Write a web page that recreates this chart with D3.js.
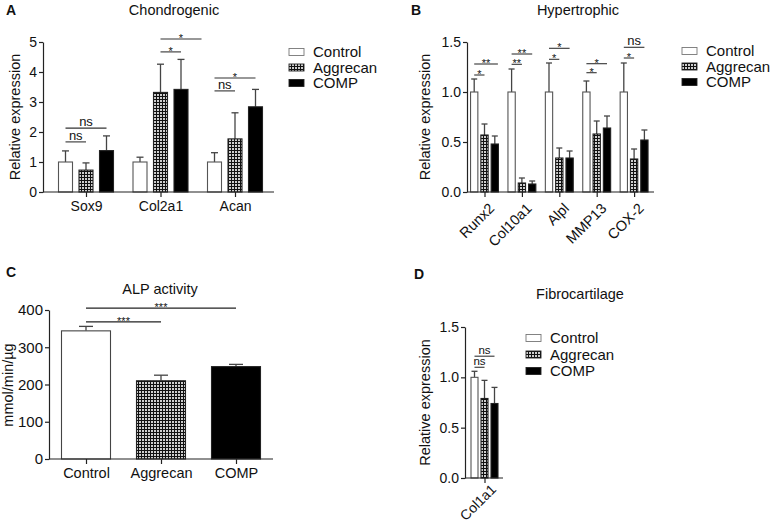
<!DOCTYPE html>
<html><head><meta charset="utf-8">
<script src="https://cdn.jsdelivr.net/npm/d3@7"></script>
<style>
html,body{margin:0;padding:0;background:#fff;}
svg{display:block;font-family:"Liberation Sans",Arial,sans-serif;}
</style></head>
<body>
<svg id="chart" width="770" height="526"></svg>
<script>
// ---------- DATA ----------
const groups = ["Control", "Aggrecan", "COMP"];

// Panel A – Chondrogenic
const chondroGenes = ["Sox9", "Col2a1", "Acan"];
const chondroMean = [[1.00, 0.73, 1.38], [1.00, 3.32, 3.42], [1.00, 1.77, 2.84]];
const chondroErr  = [[0.37, 0.24, 0.49], [0.16, 0.94, 1.00], [0.31, 0.87, 0.58]];
const chondroTicks = [0, 1, 2, 3, 4, 5];
// significance: [gene, fromBar, toBar, yValue, label]
const chondroSig = [
  [0, 0, 1, 1.67, "ns"], [0, 0, 2, 2.13, "ns"],
  [1, 1, 2, 4.67, "*"], [1, 1, 3, 5.10, "*"],
  [2, 0, 1, 3.37, "ns"], [2, 0, 2, 3.80, "*"]
];

// Panel B – Hypertrophic
const hyperGenes = ["Runx2", "Col10a1", "Alpl", "MMP13", "COX-2"];
const hyperMean = [[1.00, 0.57, 0.48], [1.00, 0.09, 0.08], [1.00, 0.34, 0.34], [1.00, 0.58, 0.64], [1.00, 0.33, 0.52]];
const hyperErr  = [[0.13, 0.11, 0.08], [0.23, 0.05, 0.03], [0.29, 0.10, 0.07], [0.11, 0.13, 0.12], [0.29, 0.10, 0.10]];
const hyperTicks = [0, 0.5, 1.0, 1.5];
const hyperSig = [
  [0, 0, 1, 1.17, "*"], [0, 0, 2.3, 1.28, "**"],
  [1, 0, 1, 1.277, "**"], [1, 0, 2, 1.38, "**"],
  [2, 0, 1, 1.327, "*"], [2, 0, 2, 1.437, "*"],
  [3, 0, 1, 1.193, "*"], [3, 0, 2, 1.283, "*"],
  [4, 0, 1, 1.34, "*"], [4, 0, 2, 1.447, "ns"]
];

// Panel C – ALP activity
const alpMean = [344, 210, 248];
const alpErr  = [12, 15, 6];
const alpTicks = [0, 100, 200, 300, 400];
const alpSig = [[0, 1, 368, "***"], [0, 2, 405, "***"]];

// Panel D – Fibrocartilage
const fibroGenes = ["Col1a1"];
const fibroMean = [[1.00, 0.79, 0.74]];
const fibroErr  = [[0.06, 0.18, 0.16]];
const fibroTicks = [0, 0.5, 1.0, 1.5];
const fibroSig = [[0, 0, 1, 1.10, "ns"], [0, 0, 2, 1.21, "ns"]];

// ---------- DRAWING ----------
const svg = d3.select("#chart");
const defs = svg.append("defs");
const pat = defs.append("pattern").attr("id", "checker")
  .attr("patternUnits", "userSpaceOnUse").attr("width", 3).attr("height", 3);
pat.append("rect").attr("width", 3).attr("height", 3).attr("fill", "#111");
pat.append("rect").attr("x", 1).attr("y", 1).attr("width", 2).attr("height", 2).attr("fill", "#cfcfcf");

const fills = ["#fff", "url(#checker)", "#000"];
const AX = "#222";
const FONT = "Liberation Sans, Arial, sans-serif";

function styleAxis(g) {
  g.selectAll("path.domain").attr("stroke", AX).attr("stroke-width", 1.2);
  g.selectAll(".tick line").attr("stroke", AX).attr("stroke-width", 1.2);
  g.selectAll(".tick text").attr("fill", "#111").attr("font-family", FONT);
}

function panel(o) {
  const g = svg.append("g");
  const y = d3.scaleLinear().domain(o.yDomain).range([o.y0, o.y1]);
  const x0 = d3.scalePoint().domain(o.genes).range([o.c0, o.c1]);
  const x1 = d3.scalePoint().domain(d3.range(o.nBars)).range([-o.step * (o.nBars - 1) / 2, o.step * (o.nBars - 1) / 2]);
  const xb = (gi, bi) => x0(o.genes[gi]) + (bi - (o.nBars - 1) / 2) * o.step;

  // y axis
  const ya = g.append("g").attr("transform", `translate(${o.ax0},0)`)
    .call(d3.axisLeft(y).tickValues(o.ticks).tickFormat(o.fmt).tickSize(4).tickSizeOuter(0).tickPadding(2));
  ya.selectAll(".tick text").attr("font-size", o.tickFs);
  styleAxis(ya);

  // bars
  o.mean.forEach((row, gi) => {
    row.forEach((v, bi) => {
      const cx = x0(o.genes[gi]) + x1(bi);
      const top = y(v + o.err[gi][bi]);
      g.append("line").attr("x1", cx).attr("x2", cx).attr("y1", y(v)).attr("y2", top)
        .attr("stroke", "#444").attr("stroke-width", 1.3);
      g.append("line").attr("x1", cx - o.cap / 2).attr("x2", cx + o.cap / 2).attr("y1", top).attr("y2", top)
        .attr("stroke", "#444").attr("stroke-width", 1.3);
      g.append("rect").attr("x", cx - o.bw / 2).attr("y", y(v)).attr("width", o.bw).attr("height", y(0) - y(v))
        .attr("fill", fills[bi]).attr("stroke", bi === 0 ? "#555" : "#222").attr("stroke-width", 1.1);
    });
  });

  // x axis
  const xa = g.append("g").attr("transform", `translate(0,${o.y0})`)
    .call(d3.axisBottom(x0).tickSize(5).tickSizeOuter(0).tickPadding(4));
  xa.select("path.domain").attr("d", `M${o.ax0},0H${o.ax1}`);
  xa.selectAll(".tick text").attr("font-size", o.catFs);
  if (o.rotate) {
    xa.selectAll(".tick text").attr("text-anchor", "end")
      .attr("transform", `translate(${o.rotate[0]},${o.rotate[1]}) rotate(-45)`).attr("dy", "0.35em").attr("y", 8).attr("x", 0);
  }
  styleAxis(xa);

  // significance
  o.sig.forEach(s => {
    const xa_ = xb(s[0], s[1]), xe = xb(s[0], s[2]), yy = y(s[3]);
    g.append("line").attr("x1", xa_).attr("x2", xe).attr("y1", yy).attr("y2", yy)
      .attr("stroke", "#333").attr("stroke-width", 1.1);
    const isNs = s[4] === "ns";
    g.append("text").attr("x", (xa_ + xe) / 2).attr("y", isNs ? yy - 2 : yy + 3)
      .attr("text-anchor", "middle").attr("font-family", FONT)
      .attr("font-size", isNs ? o.nsFs : 11).attr("fill", "#111").text(s[4]);
  });

  // title
  g.append("text").attr("x", o.tx).attr("y", o.ty).attr("text-anchor", "middle")
    .attr("font-family", FONT).attr("font-size", 14.5).attr("fill", "#111").text(o.title);
  // panel letter
  g.append("text").attr("x", o.lx).attr("y", o.ly).attr("font-family", FONT)
    .attr("font-weight", "bold").attr("font-size", 14).attr("fill", "#111").text(o.letter);
  // y label
  g.append("text").attr("transform", `translate(${o.ylx},${(o.y0 + o.y1) / 2}) rotate(-90)`)
    .attr("text-anchor", "middle").attr("font-family", FONT).attr("font-size", 14.5).attr("fill", "#111")
    .text(o.ylabel);

  // legend
  if (o.legend) {
    groups.forEach((name, i) => {
      const ly = o.legend.y + i * o.legend.dy;
      g.append("rect").attr("x", o.legend.x).attr("y", ly - 3.5).attr("width", 15).attr("height", 7)
        .attr("fill", fills[i]).attr("stroke", i === 0 ? "#777" : "#222").attr("stroke-width", 0.9);
      g.append("text").attr("x", o.legend.x + 24).attr("y", ly).attr("dy", "0.35em")
        .attr("font-family", FONT).attr("font-size", 15).attr("fill", "#111").text(name);
    });
  }
}

// Panel A
panel({
  genes: chondroGenes, mean: chondroMean, err: chondroErr, nBars: 3, ticks: chondroTicks,
  yDomain: [0, 5], y0: 192, y1: 42, ax0: 43, ax1: 274, c0: 86, c1: 235, step: 20.5, bw: 14, cap: 7,
  fmt: d3.format("d"), tickFs: 14, catFs: 14, nsFs: 13, sig: chondroSig,
  title: "Chondrogenic", tx: 174, ty: 15, letter: "A", lx: 6, ly: 15,
  ylabel: "Relative expression", ylx: 20,
  legend: { x: 289, y: 52, dy: 15.5 }
});

// Panel B
panel({
  genes: hyperGenes, mean: hyperMean, err: hyperErr, nBars: 3, ticks: hyperTicks,
  yDomain: [0, 1.5], y0: 192, y1: 42, ax0: 467, ax1: 654, c0: 484.5, c1: 634.1, step: 10.3, bw: 7.3, cap: 6,
  fmt: d3.format(".1f"), tickFs: 14, catFs: 14.5, nsFs: 13, sig: hyperSig, rotate: [1, 8],
  title: "Hypertrophic", tx: 578, ty: 15, letter: "B", lx: 411, ly: 15,
  ylabel: "Relative expression", ylx: 430,
  legend: { x: 682, y: 51, dy: 15.5 }
});

// Panel C (single-factor bars)
(function () {
  const g = svg.append("g");
  const y = d3.scaleLinear().domain([0, 400]).range([459, 310]);
  const x = d3.scalePoint().domain(groups).range([86, 236]);
  const ya = g.append("g").attr("transform", "translate(49,0)")
    .call(d3.axisLeft(y).tickValues(alpTicks).tickFormat(d3.format("d")).tickSize(4).tickSizeOuter(0).tickPadding(2));
  ya.selectAll(".tick text").attr("font-size", 15);
  styleAxis(ya);
  groups.forEach((name, i) => {
    const cx = x(name), v = alpMean[i], top = y(v + alpErr[i]);
    g.append("line").attr("x1", cx).attr("x2", cx).attr("y1", y(v)).attr("y2", top).attr("stroke", "#444").attr("stroke-width", 1.3);
    g.append("line").attr("x1", cx - 7).attr("x2", cx + 7).attr("y1", top).attr("y2", top).attr("stroke", "#444").attr("stroke-width", 1.3);
    g.append("rect").attr("x", cx - 24.5).attr("y", y(v)).attr("width", 49).attr("height", y(0) - y(v))
      .attr("fill", fills[i]).attr("stroke", i === 0 ? "#444" : "#222").attr("stroke-width", 1.1);
  });
  const xa = g.append("g").attr("transform", "translate(0,459)")
    .call(d3.axisBottom(x).tickSize(5).tickSizeOuter(0).tickPadding(4));
  xa.select("path.domain").attr("d", "M49,0H273");
  xa.selectAll(".tick text").attr("font-size", 14.5);
  styleAxis(xa);
  alpSig.forEach(s => {
    const xs = x(groups[s[0]]), xe = x(groups[s[1]]), yy = y(s[2]);
    g.append("line").attr("x1", xs).attr("x2", xe).attr("y1", yy).attr("y2", yy).attr("stroke", "#222").attr("stroke-width", 1.1);
    g.append("text").attr("x", (xs + xe) / 2).attr("y", yy + 3).attr("text-anchor", "middle")
      .attr("font-family", FONT).attr("font-size", 11).attr("fill", "#111").text(s[3]);
  });
  g.append("text").attr("x", 160).attr("y", 294).attr("text-anchor", "middle")
    .attr("font-family", FONT).attr("font-size", 14.5).attr("fill", "#111").text("ALP activity");
  g.append("text").attr("x", 6).attr("y", 277).attr("font-family", FONT).attr("font-weight", "bold")
    .attr("font-size", 14).attr("fill", "#111").text("C");
  g.append("text").attr("transform", "translate(13,385) rotate(-90)").attr("text-anchor", "middle")
    .attr("font-family", FONT).attr("font-size", 14.5).attr("fill", "#111").text("mmol/min/µg");
})();

// Panel D
panel({
  genes: fibroGenes, mean: fibroMean, err: fibroErr, nBars: 3, ticks: fibroTicks,
  yDomain: [0, 1.5], y0: 478, y1: 327, ax0: 465, ax1: 503, c0: 484.5, c1: 484.5, step: 10, bw: 7, cap: 6,
  fmt: d3.format(".1f"), tickFs: 14, catFs: 14, nsFs: 11.5, sig: fibroSig, rotate: [3, 3],
  title: "Fibrocartilage", tx: 580, ty: 299, letter: "D", lx: 414, ly: 279,
  ylabel: "Relative expression", ylx: 430,
  legend: { x: 526, y: 338, dy: 16.5 }
});
</script>
</body></html>
